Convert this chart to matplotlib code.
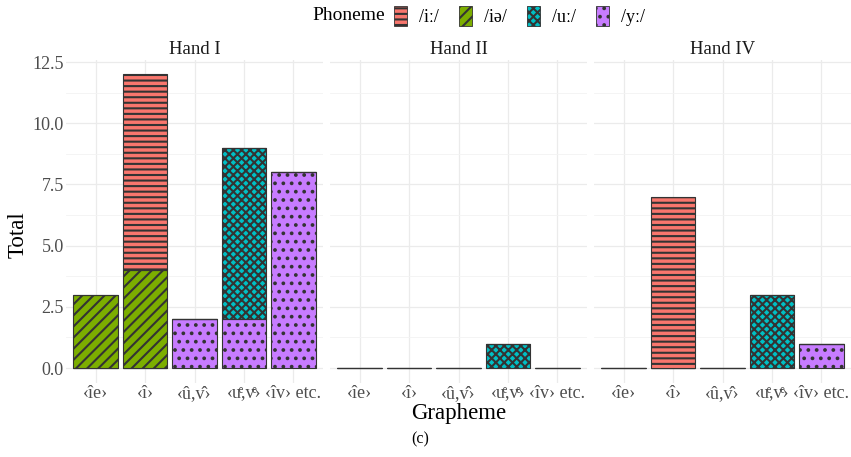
import numpy as np
import matplotlib.pyplot as plt
from matplotlib.patches import Patch

plt.rcParams['font.family'] = ['Liberation Serif', 'DejaVu Serif']
plt.rcParams['hatch.linewidth'] = 1.5

# ---- data ----
graphemes = ['‹îe›', '‹î›', '‹û,v̂›', '‹uͤ,vͤ›', '‹îv› etc.']
hands = ['Hand I', 'Hand II', 'Hand IV']
phonemes = ['/iː/', '/iə/', '/uː/', '/yː/']

# counts per phoneme (rows) x grapheme (cols)
hand_i = [[0, 8, 0, 0, 0],    # /iː/
          [3, 4, 0, 0, 0],    # /iə/
          [0, 0, 0, 7, 0],    # /uː/
          [0, 0, 2, 2, 8]]    # /yː/
hand_ii = [[0, 0, 0, 0, 0],
           [0, 0, 0, 0, 0],
           [0, 0, 0, 1, 0],
           [0, 0, 0, 0, 0]]
hand_iv = [[0, 7, 0, 0, 0],
           [0, 0, 0, 0, 0],
           [0, 0, 0, 3, 0],
           [0, 0, 0, 0, 1]]

colors = ['#F8766D', '#7CAE00', '#00BFC4', '#C77CFF']
hatches = ['---', '///', 'xxxx', '..']
edge = '#333333'

W, H = 851, 457
fig = plt.figure(figsize=(W / 100, H / 100), dpi=100)

panel_w = 257
lefts = [66, 330, 594]
top_px, bot_px = 59.6, 382.7

x = np.arange(len(graphemes))
axes = []
for k, (hand, data) in enumerate(zip(hands, [hand_i, hand_ii, hand_iv])):
    ax = fig.add_axes([lefts[k] / W, 1 - bot_px / H, panel_w / W, (bot_px - top_px) / H])
    data = np.array(data, dtype=float)
    bottom = np.zeros(len(graphemes))
    # ggplot stacks the first level on top, so draw from last to first
    for j in reversed(range(len(phonemes))):
        ax.bar(x, data[j], bottom=bottom, width=0.9, color=colors[j],
               edgecolor=edge, linewidth=0.8, hatch=hatches[j], zorder=3)
        bottom += data[j]
    ax.set_xlim(-0.6, len(graphemes) - 0.4)
    ax.set_ylim(-0.6, 12.6)
    ax.set_xticks(x)
    ax.set_xticklabels(graphemes, fontsize=13, color='#4d4d4d')
    ax.set_yticks([0, 2.5, 5, 7.5, 10, 12.5])
    ax.set_yticks([1.25, 3.75, 6.25, 8.75, 11.25], minor=True)
    if k == 0:
        ax.set_yticklabels(['0.0', '2.5', '5.0', '7.5', '10.0', '12.5'],
                           fontsize=13, color='#4d4d4d')
    else:
        ax.set_yticklabels([])
    ax.tick_params(which='both', length=0, pad=1.5)
    ax.grid(which='major', color='#EBEBEB', linewidth=0.9, zorder=0)
    ax.grid(which='minor', axis='y', color='#F3F3F3', linewidth=0.6, zorder=0)
    for s in ax.spines.values():
        s.set_visible(False)
    ax.set_axisbelow(True)
    ax.set_title(hand, fontsize=13.5, pad=4, color='#1a1a1a')
    axes.append(ax)

fig.text(18 / W, 1 - 235 / H, 'Total', rotation=90, fontsize=16.5,
         ha='center', va='center')
fig.text(459 / W, 1 - 414 / H, 'Grapheme', fontsize=16.5, ha='center', va='center')
fig.text(420 / W, 1 - 439 / H, '(c)', fontsize=11.5, ha='center', va='center')

# legend
fig.text(312 / W, 1 - 16 / H, 'Phoneme', fontsize=14, ha='left', va='center')
handles = [Patch(facecolor=c, edgecolor=edge, hatch=h, linewidth=0.6)
           for c, h in zip(colors, hatches)]
fig.legend(handles, phonemes, loc='center left', bbox_to_anchor=(394 / W, 1 - 16 / H),
           ncol=4, frameon=False, fontsize=13, handlelength=0.7, handleheight=1.3,
           handletextpad=0.7, columnspacing=1.1, borderaxespad=0, borderpad=0)

fig.savefig('out.png', dpi=100)
